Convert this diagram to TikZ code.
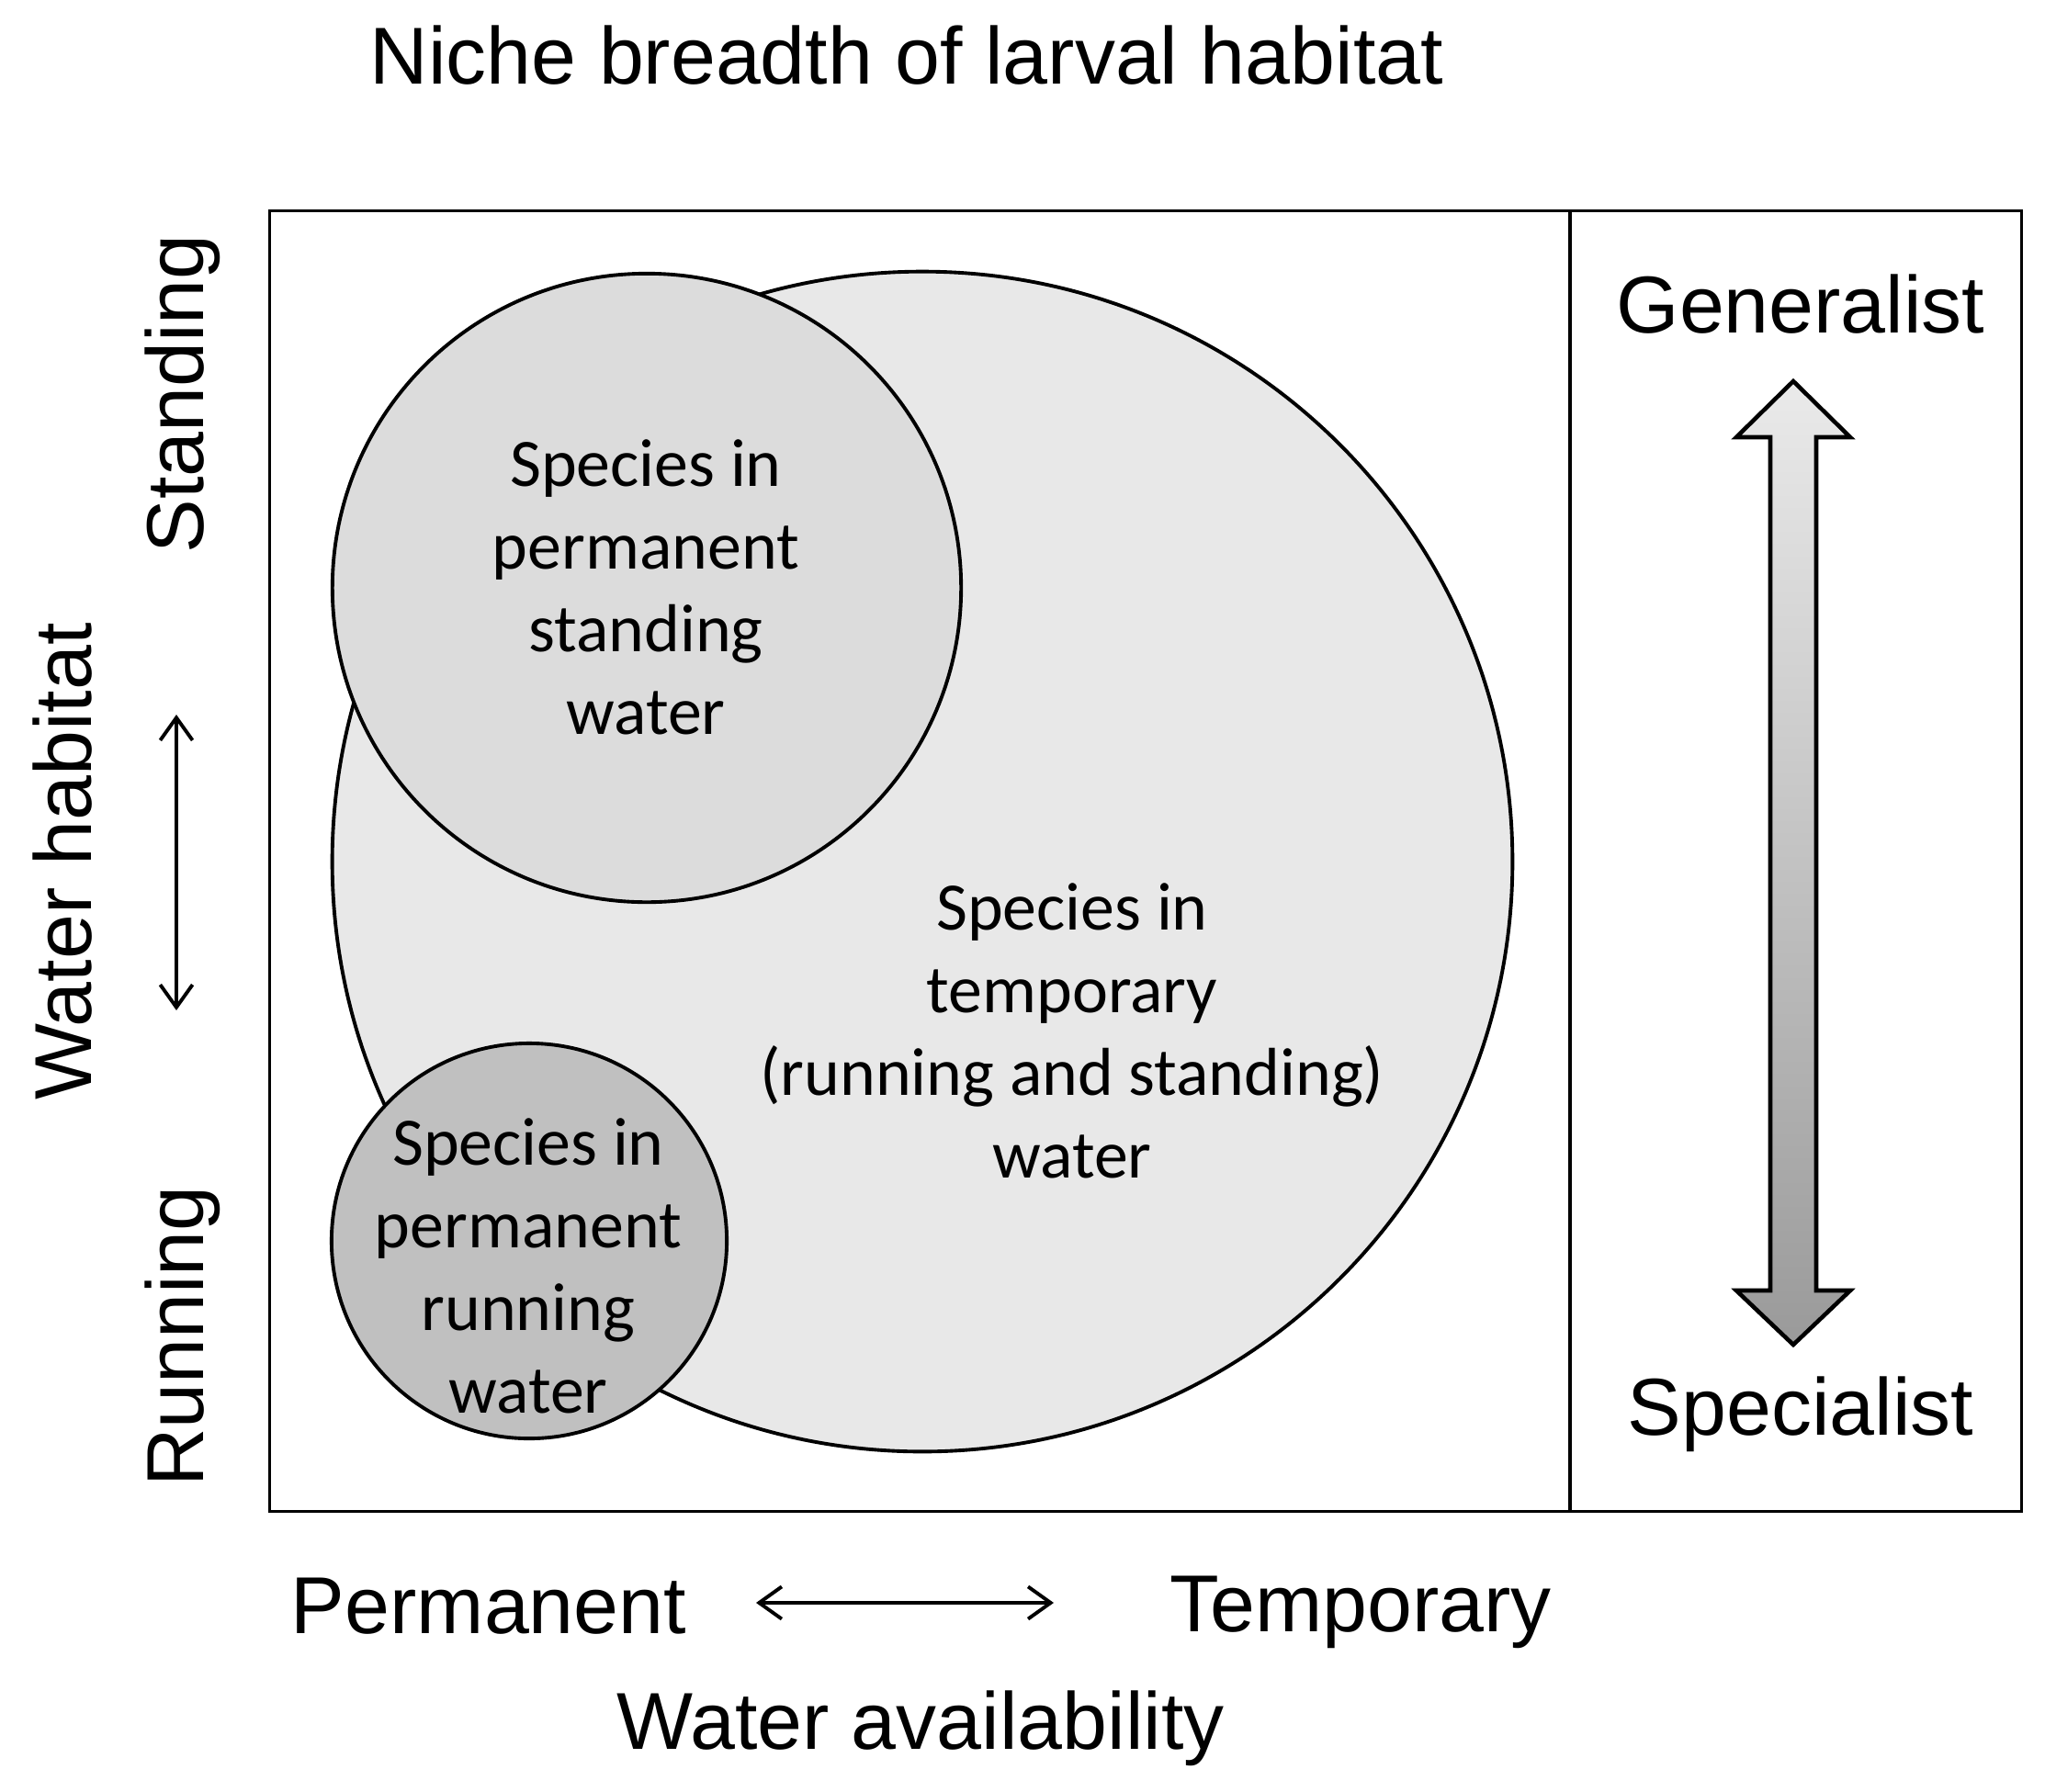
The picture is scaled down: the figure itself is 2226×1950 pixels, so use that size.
\documentclass[tikz,border=0pt]{standalone}
\usepackage{fontspec}
\setmainfont{Liberation Sans}
\newfontfamily\carlito{Carlito}
\usetikzlibrary{arrows.meta}
\definecolor{bigfill}{HTML}{E8E8E8}
\definecolor{standfill}{HTML}{DCDCDC}
\definecolor{runfill}{HTML}{C0C0C0}
\definecolor{arrtop}{HTML}{EAEAEA}
\definecolor{arrbot}{HTML}{9A9A9A}
\begin{document}
\begin{tikzpicture}[x=0.01cm,y=-0.01cm,
  outer/.style={font=\fontsize{25}{30}\selectfont, inner sep=0pt},
  inner/.style={font=\carlito\fontsize{21}{25.6}\selectfont, align=center, inner sep=0pt},
  circ/.style={circle, draw, line width=1.1pt, inner sep=0pt},
  dbl/.style={{Straight Barb[length=7pt,width=10pt]}-{Straight Barb[length=7pt,width=10pt]}, line width=1.1pt}]
\useasboundingbox (0,0) rectangle (2226,1950);
\node[outer] (title) at (987,60) {Niche breadth of larval habitat};
\node[draw, line width=1pt, minimum width=19.06cm, minimum height=14.15cm, inner sep=0pt] (frame) at (1247,937.5) {};
\coordinate (dtop) at (1709,230);
\coordinate (dbot) at (1709,1645);
\draw[line width=1pt] (dtop) -- (dbot);
% circles
\node[circ, fill=bigfill, minimum size=12.84cm] (big) at (1004,938) {};
\node[circ, fill=standfill, minimum size=6.84cm] (stand) at (704,640) {};
\node[circ, fill=runfill, minimum size=4.30cm] (run) at (576,1351) {};
\node[inner] (standtxt) at (703,639) {Species in\\permanent\\standing\\water};
\node[inner] (bigtxt) at (1167,1122) {Species in\\temporary\\(running and standing)\\water};
\node[inner] (runtxt) at (575,1378) {Species in\\permanent\\running\\water};
% axis labels
\node[outer, rotate=90] (standing) at (199,429) {Standing};
\node[outer, rotate=90] (waterhab) at (68,938) {Water habitat};
\node[outer, rotate=90] (running) at (199,1455) {Running};
\coordinate (va) at (192,778);
\coordinate (vb) at (192,1100);
\draw[dbl] (va) -- (vb);
\node[outer] (perm) at (532,1749) {Permanent};
\node[outer] (temp) at (1481,1755) {Temporary};
\coordinate (ha) at (823,1745);
\coordinate (hb) at (1147,1745);
\draw[dbl] (ha) -- (hb);
\node[outer] (avail) at (1002,1882) {Water availability};
% generalist / specialist
\node[outer] (gen) at (1960,331) {Generalist};
\node[outer] (spec) at (1960,1540) {Specialist};
\shade[top color=arrtop, bottom color=arrbot, draw, line width=1.3pt, line join=miter]
  (1952,415) -- (2014,476) -- (1977,476) -- (1977,1405) -- (2014,1405) -- (1952,1464)
  -- (1890,1405) -- (1927,1405) -- (1927,476) -- (1890,476) -- cycle;
\end{tikzpicture}
\end{document}
